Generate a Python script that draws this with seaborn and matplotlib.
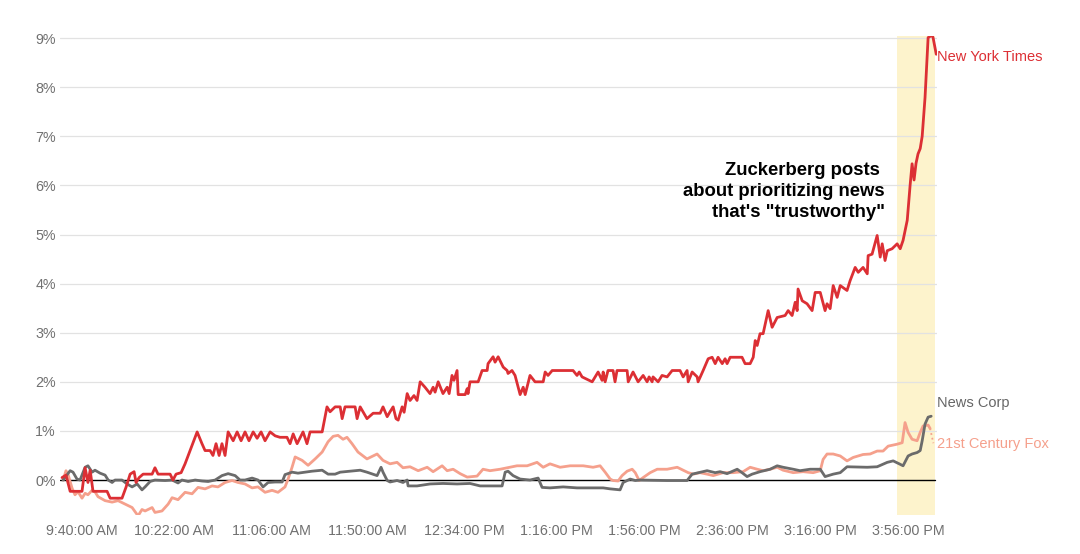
import matplotlib
matplotlib.use("Agg")
import matplotlib.pyplot as plt
import seaborn as sns

# minutes after the 9:30 AM open, and % change on the day
nyt_min = [0.9, 2.7, 4.6, 10.0, 11.4, 12.7, 13.7, 15.0, 21.4, 22.8,
           28.2, 30.0, 31.9, 33.7, 34.6, 36.0, 37.8, 41.9, 43.2, 44.6,
           50.1, 51.4, 52.8, 55.1, 56.9, 59.2, 60.5, 62.4, 64.6, 66.0,
           68.3, 69.6, 71.0, 72.4, 73.7, 75.1, 76.5, 78.8, 80.6, 82.4,
           84.2, 86.0, 87.9, 89.7, 91.5, 93.3, 95.6, 97.9, 100.1, 103.3,
           104.7, 106.1, 107.9, 110.6, 112.4, 113.8, 119.3, 121.5, 122.9, 125.2,
           127.5, 128.4, 129.7, 134.3, 135.2, 136.6, 139.7, 142.5, 145.7, 147.0,
           148.9, 150.2, 151.6, 152.9, 153.9, 155.7, 156.6, 158.0, 159.3, 161.1,
           162.5, 163.9, 166.1, 168.4, 169.8, 170.7, 172.1, 174.3, 176.2, 177.1,
           178.4, 179.3, 180.7, 181.2, 184.4, 185.3, 185.7, 186.6, 190.3, 192.1,
           194.4, 194.8, 197.1, 198.0, 199.4, 201.7, 203.5, 203.9, 205.7, 207.1,
           209.4, 210.8, 211.7, 213.9, 216.2, 219.9, 220.8, 222.1, 224.0, 233.5,
           235.3, 236.3, 237.6, 242.2, 244.9, 246.7, 247.2, 248.1, 249.4, 251.7,
           252.6, 253.5, 258.1, 258.6, 260.8, 263.1, 265.4, 267.2, 268.1, 269.5,
           269.9, 272.2, 274.0, 276.3, 278.6, 282.2, 283.6, 285.4, 285.9, 287.7,
           290.0, 290.4, 292.7, 295.0, 296.8, 298.2, 299.5, 301.4, 302.7, 303.6,
           305.0, 310.4, 311.8, 314.1, 315.5, 316.4, 317.3, 318.6, 320.0, 322.3,
           324.1, 326.4, 330.0, 331.4, 333.2, 334.6, 335.5, 335.9, 337.8, 340.0,
           342.3, 343.7, 346.0, 348.2, 349.1, 350.5, 351.9, 353.7, 355.1, 358.2,
           359.6, 361.9, 363.3, 365.5, 367.4, 367.8, 369.6, 371.9, 373.3, 374.2,
           375.5, 376.5, 378.7, 381.0, 382.4, 383.7, 385.6, 386.9, 387.8, 388.7,
           389.6, 390.5, 391.5, 392.4, 393.7, 395.1, 396.9, 397.4, 398.8]
nyt_pct = [0.05, 0.10, -0.23, -0.23, 0.25, -0.05, 0.20, -0.23, -0.23, -0.37,
           -0.37, -0.15, 0.12, 0.17, -0.05, 0.05, 0.12, 0.12, 0.25, 0.12,
           0.12, 0.00, 0.12, 0.15, 0.33, 0.60, 0.75, 0.98, 0.74, 0.60,
           0.60, 0.50, 0.74, 0.50, 0.74, 0.50, 0.98, 0.80, 0.98, 0.80,
           0.98, 0.80, 0.98, 0.85, 0.98, 0.80, 0.98, 0.90, 0.87, 0.87,
           0.74, 0.94, 0.74, 0.98, 0.74, 0.98, 0.98, 1.49, 1.39, 1.49,
           1.49, 1.25, 1.49, 1.49, 1.25, 1.49, 1.25, 1.36, 1.36, 1.49,
           1.29, 1.39, 1.49, 1.25, 1.22, 1.49, 1.38, 1.76, 1.62, 1.72,
           1.62, 2.00, 1.89, 1.76, 1.89, 1.79, 2.00, 1.76, 1.89, 1.76,
           2.13, 2.03, 2.23, 1.74, 1.74, 1.86, 1.76, 2.00, 2.00, 2.23,
           2.23, 2.37, 2.51, 2.40, 2.51, 2.30, 2.23, 2.17, 2.23, 2.13,
           1.74, 1.89, 1.74, 2.13, 2.00, 2.00, 2.20, 2.13, 2.23, 2.23,
           2.13, 2.20, 2.10, 2.00, 2.20, 2.03, 2.20, 2.00, 2.23, 2.23,
           2.00, 2.23, 2.23, 2.00, 2.20, 2.00, 2.13, 2.00, 2.10, 2.00,
           2.10, 2.00, 2.13, 2.10, 2.23, 2.23, 2.10, 2.23, 2.00, 2.20,
           2.10, 2.00, 2.23, 2.47, 2.50, 2.37, 2.50, 2.37, 2.47, 2.37,
           2.50, 2.50, 2.37, 2.37, 2.50, 2.84, 2.74, 2.98, 2.98, 3.45,
           3.11, 3.31, 3.35, 3.45, 3.35, 3.62, 3.45, 3.89, 3.65, 3.59,
           3.45, 3.82, 3.82, 3.45, 3.59, 3.49, 3.96, 3.72, 3.96, 3.86,
           4.06, 4.33, 4.23, 4.33, 4.20, 4.57, 4.60, 4.98, 4.54, 4.81,
           4.47, 4.67, 4.71, 4.81, 4.71, 4.88, 5.29, 6.00, 6.44, 6.11,
           6.45, 6.64, 6.75, 7.00, 7.79, 9.01, 9.06, 9.00, 8.67]

newscorp_min = [1.4, 4.6, 5.9, 7.7, 9.1, 11.4, 12.7, 14.6, 15.9, 18.2,
                20.5, 21.9, 23.7, 25.0, 28.2, 30.5, 32.8, 35.1, 37.3, 38.7,
                41.0, 43.2, 47.8, 51.0, 53.7, 55.5, 58.3, 61.5, 64.6, 67.4,
                70.6, 73.7, 76.5, 79.7, 81.9, 84.2, 87.4, 90.1, 92.4, 94.7,
                97.9, 101.1, 102.4, 105.6, 108.3, 111.5, 114.7, 119.3, 122.0, 125.2,
                127.5, 132.0, 136.6, 139.7, 144.3, 146.1, 147.0, 148.9, 150.2, 153.4,
                156.1, 158.0, 158.4, 162.5, 168.4, 174.3, 180.7, 186.6, 191.2, 201.2,
                202.6, 203.9, 206.2, 209.4, 213.9, 217.6, 219.4, 223.0, 229.0, 235.3,
                241.3, 247.2, 250.4, 254.9, 256.3, 259.5, 261.8, 264.0, 276.3, 285.4,
                287.7, 294.5, 298.2, 300.4, 303.6, 308.2, 310.4, 312.7, 315.0, 318.6,
                323.2, 326.4, 329.1, 333.7, 336.8, 341.4, 346.0, 348.2, 351.9, 355.1,
                358.2, 367.4, 371.9, 376.5, 379.2, 382.4, 383.7, 386.0, 387.8, 390.1,
                391.5, 392.4, 393.7, 395.1, 396.5]
newscorp_pct = [0.00, 0.19, 0.16, 0.02, 0.00, 0.26, 0.29, 0.16, 0.20, 0.14,
                0.10, 0.00, -0.05, 0.00, 0.00, -0.08, -0.14, -0.08, -0.20, -0.14,
                -0.03, 0.00, -0.01, 0.00, -0.06, 0.00, -0.03, 0.00, -0.02, -0.03,
                0.00, 0.09, 0.13, 0.09, 0.00, 0.00, 0.04, 0.00, -0.14, -0.05,
                -0.04, -0.04, 0.11, 0.16, 0.14, 0.16, 0.18, 0.20, 0.12, 0.12,
                0.16, 0.18, 0.20, 0.16, 0.09, 0.26, 0.16, -0.01, -0.04, -0.01,
                -0.05, 0.00, -0.12, -0.12, -0.08, -0.07, -0.08, -0.07, -0.12, -0.12,
                0.16, 0.18, 0.09, 0.02, 0.00, 0.04, -0.15, -0.16, -0.14, -0.16,
                -0.16, -0.16, -0.18, -0.20, -0.05, 0.02, -0.01, 0.00, -0.01, -0.01,
                0.12, 0.19, 0.15, 0.17, 0.13, 0.22, 0.15, 0.07, 0.12, 0.17,
                0.22, 0.29, 0.26, 0.22, 0.19, 0.22, 0.22, 0.07, 0.12, 0.15,
                0.27, 0.26, 0.27, 0.36, 0.39, 0.32, 0.29, 0.49, 0.53, 0.56,
                0.60, 0.80, 1.14, 1.28, 1.30]

fox_min = [1.4, 2.7, 3.6, 5.5, 6.8, 8.2, 10.0, 11.4, 12.7, 14.6,
           15.9, 17.3, 20.5, 23.7, 26.4, 29.6, 32.8, 35.5, 37.3, 38.7,
           41.9, 43.2, 46.4, 49.2, 51.0, 53.7, 56.9, 60.1, 62.8, 66.0,
           69.2, 71.9, 75.1, 78.3, 81.0, 84.2, 87.4, 90.1, 93.3, 96.5,
           99.2, 102.4, 103.8, 105.6, 107.0, 110.2, 112.9, 116.1, 119.3, 122.0,
           124.3, 126.5, 128.8, 130.6, 132.9, 135.6, 139.7, 144.3, 147.0, 150.2,
           153.4, 156.1, 159.3, 163.0, 167.1, 169.8, 173.9, 176.2, 178.9, 182.1,
           185.3, 189.8, 192.5, 195.7, 200.3, 204.8, 208.0, 212.6, 217.1, 219.9,
           223.0, 227.6, 232.2, 238.1, 242.6, 245.8, 248.1, 250.4, 251.7, 254.0,
           255.8, 258.1, 260.4, 261.8, 263.6, 265.4, 268.6, 271.8, 276.3, 280.9,
           283.6, 285.9, 288.2, 291.3, 294.5, 297.3, 301.8, 306.3, 310.9, 314.1,
           317.3, 320.0, 323.2, 326.4, 329.1, 333.7, 338.2, 342.8, 346.0, 347.3,
           349.1, 351.9, 355.1, 358.2, 361.0, 365.5, 368.7, 371.9, 374.6, 376.9,
           381.0, 383.3, 384.6, 386.0, 387.8, 390.1, 391.5, 392.8, 395.1, 396.0]
fox_pct = [0.00, 0.19, 0.12, -0.17, -0.30, -0.24, -0.37, -0.27, -0.30, -0.21,
           -0.24, -0.34, -0.42, -0.45, -0.42, -0.49, -0.56, -0.73, -0.60, -0.63,
           -0.56, -0.66, -0.63, -0.49, -0.36, -0.40, -0.25, -0.28, -0.15, -0.18,
           -0.12, -0.14, -0.05, -0.01, -0.05, -0.08, -0.16, -0.14, -0.25, -0.21,
           -0.25, -0.14, 0.02, 0.26, 0.47, 0.40, 0.30, 0.43, 0.57, 0.78,
           0.89, 0.91, 0.83, 0.87, 0.74, 0.57, 0.43, 0.53, 0.40, 0.33,
           0.36, 0.25, 0.27, 0.19, 0.26, 0.17, 0.29, 0.19, 0.22, 0.13,
           0.06, 0.08, 0.22, 0.19, 0.22, 0.26, 0.29, 0.29, 0.36, 0.26,
           0.33, 0.26, 0.29, 0.29, 0.26, 0.29, 0.16, 0.02, -0.01, -0.02,
           0.09, 0.18, 0.22, 0.15, -0.01, 0.05, 0.15, 0.22, 0.22, 0.26,
           0.20, 0.15, 0.12, 0.15, 0.12, 0.09, 0.15, 0.15, 0.17, 0.26,
           0.22, 0.19, 0.22, 0.26, 0.20, 0.15, 0.17, 0.15, 0.19, 0.42,
           0.53, 0.53, 0.49, 0.39, 0.46, 0.52, 0.53, 0.59, 0.59, 0.69,
           0.73, 0.76, 1.17, 0.97, 0.83, 0.80, 0.97, 1.10, 1.12, 1.05]

tick_min = [10, 52, 96, 140, 184, 226, 266, 306, 346, 386]
tick_labels = ["9:40:00 AM", "10:22:00 AM", "11:06:00 AM", "11:50:00 AM",
               "12:34:00 PM", "1:16:00 PM", "1:56:00 PM", "2:36:00 PM",
               "3:16:00 PM", "3:56:00 PM"]
y_ticks = [0, 1, 2, 3, 4, 5, 6, 7, 8, 9]

post_start, post_end = 381.0, 398.3   # Zuckerberg post window (shaded)

RED = "#dc2f34"
GRAY = "#6b6b6b"
SALMON = "#f5a08c"

sns.set_style("white")
plt.rcParams["font.family"] = ["Liberation Sans", "DejaVu Sans"]

fig = plt.figure(figsize=(10.8, 5.54), dpi=100)
ax = fig.add_axes([0.0556, 0.0697, 0.8117, 0.866])

ax.axvspan(post_start, post_end, color="#fdf3cc", lw=0, zorder=0)
for v in y_ticks[1:]:
    ax.axhline(v, color="#e2e2e2", lw=0.9, zorder=1)
ax.axhline(0, xmax=post_end / 399, color="black", lw=1.0, zorder=2)

sns.lineplot(x=fox_min, y=fox_pct, color=SALMON, lw=2.0, ax=ax,
             sort=False, estimator=None, zorder=3)
sns.lineplot(x=newscorp_min, y=newscorp_pct, color=GRAY, lw=2.0, ax=ax,
             sort=False, estimator=None, zorder=4)
sns.lineplot(x=nyt_min, y=nyt_pct, color=RED, lw=2.0, ax=ax,
             sort=False, estimator=None, zorder=5)

# dotted leader from the Fox line to its label
ax.plot([fox_min[-1], fox_min[-1] + 1.5], [fox_pct[-1], 0.75],
        ls=":", color=SALMON, lw=1.3, zorder=3)

lab_x = 399.2
ax.text(lab_x, 8.62, "New York Times", color=RED, fontsize=10.5,
        va="center", ha="left", clip_on=False)
ax.text(lab_x, 1.57, "News Corp", color="#666666", fontsize=10.5,
        va="center", ha="left", clip_on=False)
ax.text(lab_x, 0.73, "21st Century Fox", color=SALMON, fontsize=10.5,
        va="center", ha="left", clip_on=False)

ax.text(375.5, 5.87, "Zuckerberg posts \nabout prioritizing news\nthat's \"trustworthy\"",
        ha="right", va="center", fontsize=13.3, fontweight="bold", color="black",
        linespacing=1.3)

ax.set_xlim(0, 399)
ax.set_ylim(-0.72, 9.05)
ax.set_xticks(tick_min)
ax.set_xticklabels(tick_labels)
ax.set_yticks(y_ticks)
ax.set_yticklabels([f"{v}%" for v in y_ticks])
ax.tick_params(axis="both", length=0, labelsize=10.3, labelcolor="#707070")
ax.tick_params(axis="x", pad=6)
ax.tick_params(axis="y", pad=3)
ax.set_xlabel("")
ax.set_ylabel("")
for s in ax.spines.values():
    s.set_visible(False)

plt.savefig("out.png", dpi=100)
